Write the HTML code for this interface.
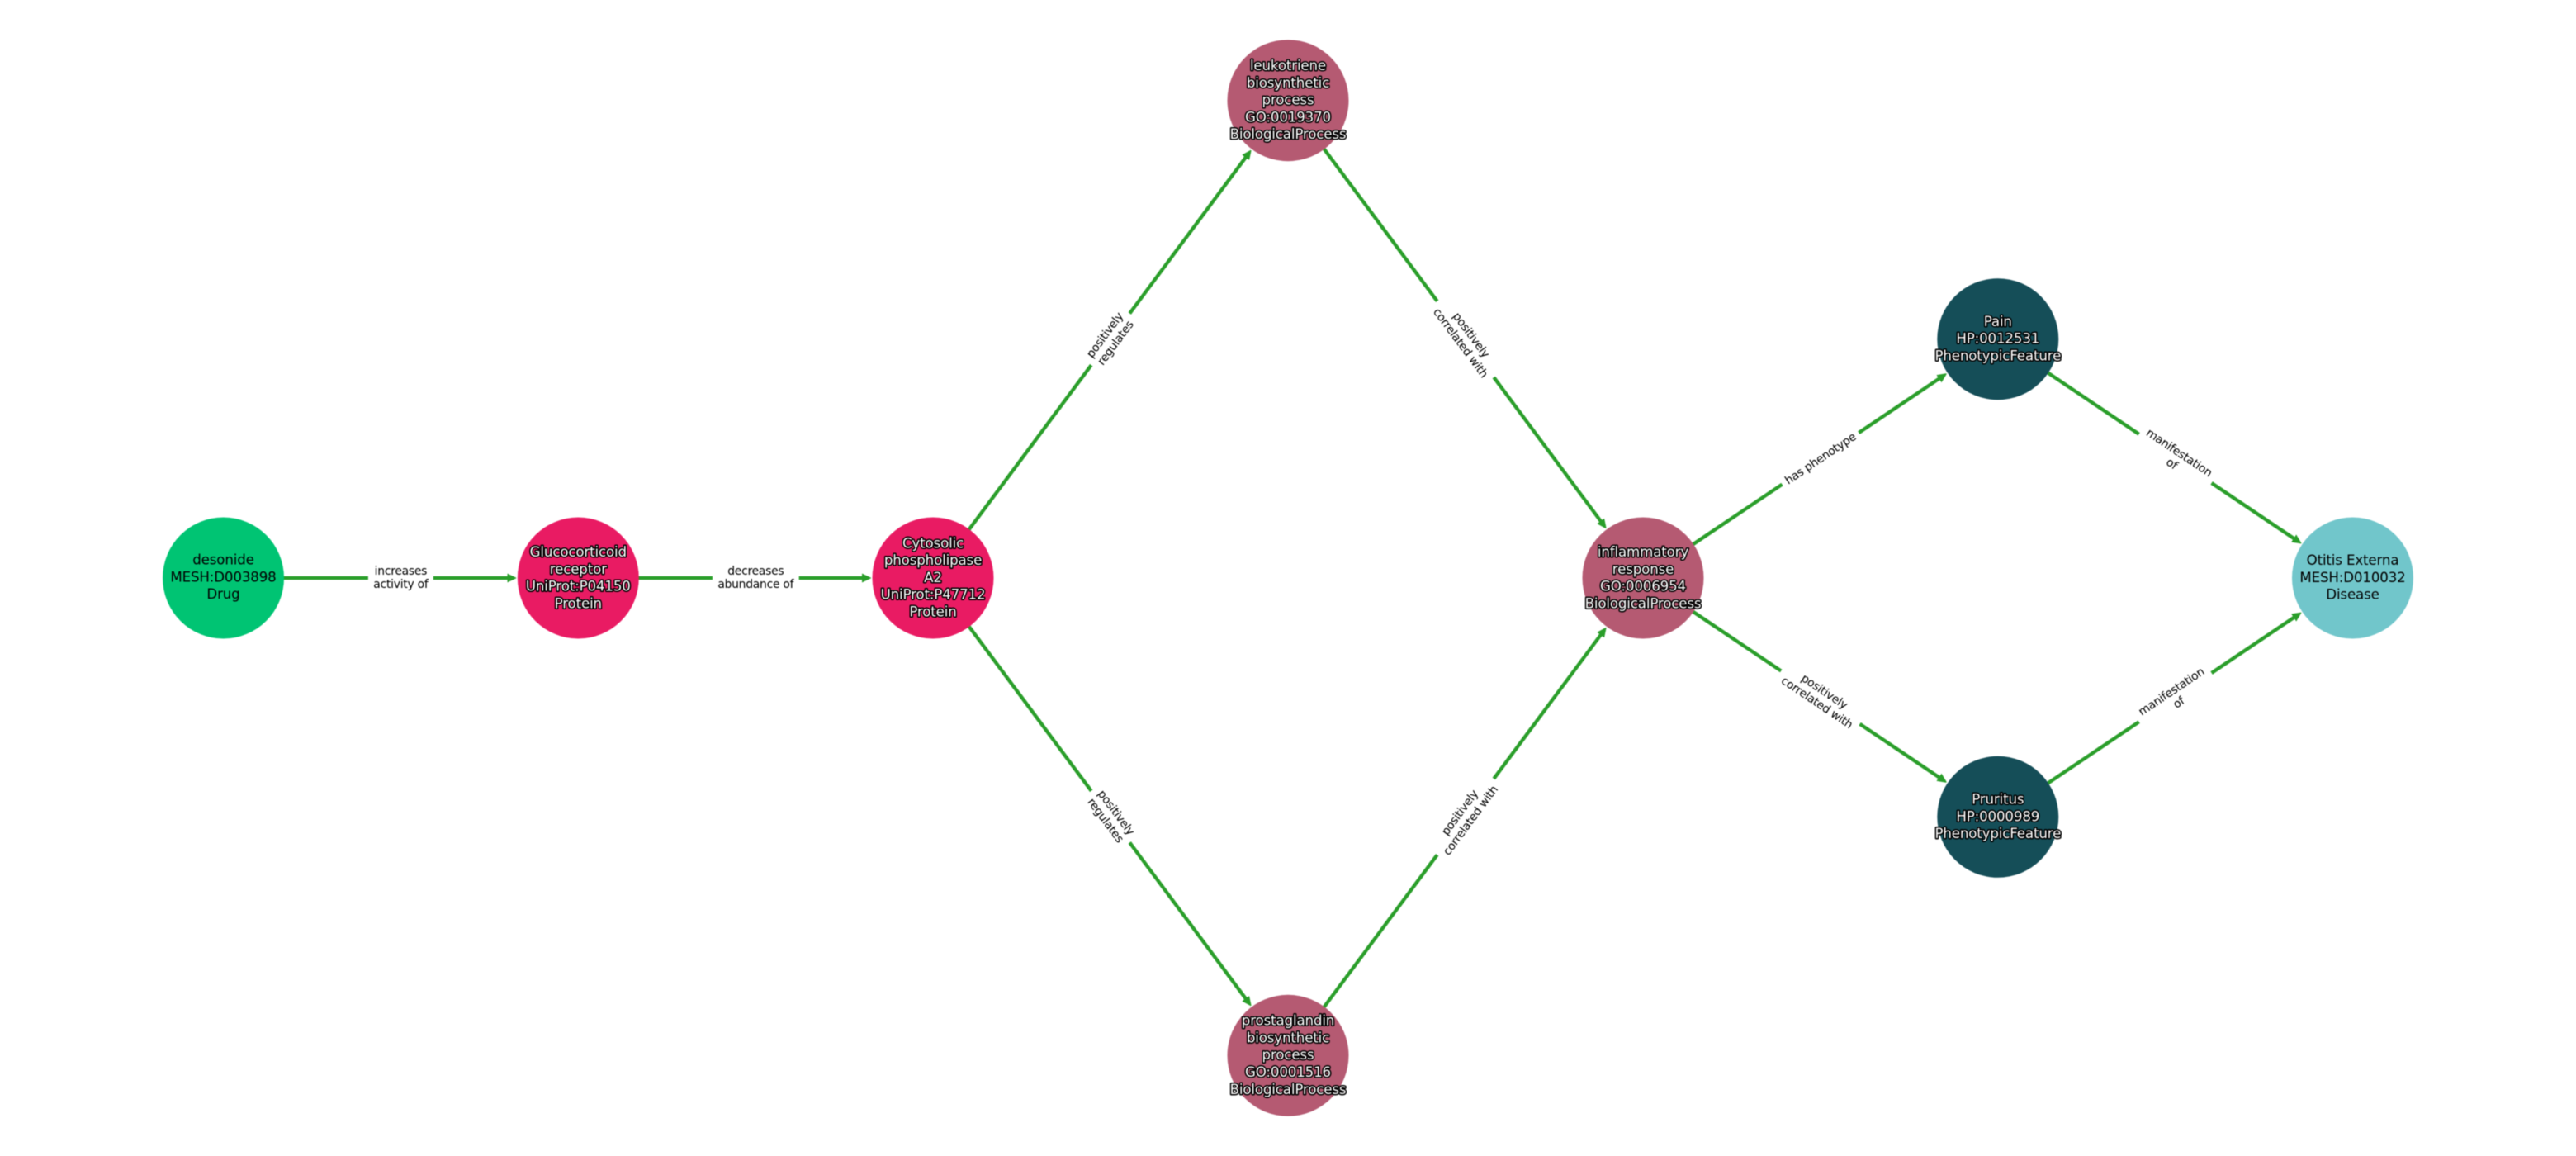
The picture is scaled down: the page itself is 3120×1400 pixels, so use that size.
<!DOCTYPE html>
<html><head><meta charset="utf-8"><style>
html,body{margin:0;padding:0;background:#fff;width:3120px;height:1400px;overflow:hidden}
svg{display:block;filter:blur(0.4px)}
text{font-family:"DejaVu Sans","Liberation Sans",sans-serif;text-anchor:middle}
.e{stroke:#2a9e2a;stroke-width:4.3;fill:none;marker-end:url(#a)}
.n text{font-size:16.67px;letter-spacing:-0.15px}
.w text{fill:#fff;stroke:#000;stroke-width:3px;paint-order:stroke;stroke-linejoin:round}
.l text{font-size:13.89px;letter-spacing:-0.25px;fill:#000}
.l rect{fill:#fff}
</style></head><body>
<svg width="3120" height="1400" viewBox="0 0 3120 1400" xmlns="http://www.w3.org/2000/svg">
<defs><marker id="a" markerUnits="userSpaceOnUse" markerWidth="16" markerHeight="16" viewBox="0 -8 16 16" refX="5" refY="0" orient="auto"><path d="M0-4.8L10.4 0 0 4.8z" fill="#2a9e2a" stroke="#2a9e2a" stroke-width="1.2" stroke-linejoin="round"/></marker></defs>
<path class="e" d="M270.5 700L619.3 700"/>
<path class="e" d="M700.3 700L1049 700"/>
<path class="e" d="M1130 700L1511.67 186.7"/>
<path class="e" d="M1130 700L1511.67 1213.3"/>
<path class="e" d="M1560 121.7L1941.67 635"/>
<path class="e" d="M1560 1278.3L1941.67 765"/>
<path class="e" d="M1990 700L2352.6 455.9"/>
<path class="e" d="M1990 700L2352.6 944.1"/>
<path class="e" d="M2419.8 410.7L2782.3 654.8"/>
<path class="e" d="M2419.8 989.3L2782.3 745.2"/>

<g class="l">
<g transform="translate(485.4 700)"><rect x="-39.5" y="-19" width="79" height="38"/><text y="-4">increases</text><text y="12">activity of</text></g>
<g transform="translate(915.3 700)"><rect x="-52.4" y="-19" width="104.8" height="38"/><text y="-4">decreases</text><text y="12">abundance of</text></g>
<g transform="translate(1345 410.85) rotate(-53.4)"><rect x="-39" y="-19" width="78" height="38"/><text y="-4">positively</text><text y="12">regulates</text></g>
<g transform="translate(1345 989.15) rotate(53.4)"><rect x="-39" y="-19" width="78" height="38"/><text y="-4">positively</text><text y="12">regulates</text></g>
<g transform="translate(1775 410.85) rotate(53.4)"><rect x="-57.5" y="-19" width="115" height="38"/><text y="-4">positively</text><text y="12">correlated with</text></g>
<g transform="translate(1775 989.15) rotate(-53.4)"><rect x="-57.5" y="-19" width="115" height="38"/><text y="-4">positively</text><text y="12">correlated with</text></g>
<g transform="translate(2204.9 555.35) rotate(-33.9)"><rect x="-56" y="-11" width="112" height="22"/><text y="4.5">has phenotype</text></g>
<g transform="translate(2204.9 844.65) rotate(33.9)"><rect x="-57.5" y="-19" width="115" height="38"/><text y="-4">positively</text><text y="12">correlated with</text></g>
<g transform="translate(2634.65 555.35) rotate(33.9)"><rect x="-53" y="-19" width="106" height="38"/><text y="-4">manifestation</text><text y="12">of</text></g>
<g transform="translate(2634.65 844.65) rotate(-33.9)"><rect x="-53" y="-19" width="106" height="38"/><text y="-4">manifestation</text><text y="12">of</text></g>
</g>

<g class="n">
<g transform="translate(270.5 700)"><circle r="73.5" fill="#00c473"/><text y="-16.7">desonide</text><text y="4.3">MESH:D003898</text><text y="25">Drug</text></g>
<g class="w" transform="translate(700.3 700)"><circle r="73.5" fill="#e91b63"/><text y="-26">Glucocorticoid</text><text y="-5.2">receptor</text><text y="15.6">UniProt:P04150</text><text y="36.4">Protein</text></g>
<g class="w" transform="translate(1130 700)"><circle r="73.5" fill="#e91b63"/><text y="-36.7">Cytosolic</text><text y="-15.9">phospholipase</text><text y="4.9">A2</text><text y="25.7">UniProt:P47712</text><text y="46.5">Protein</text></g>
<g class="w" transform="translate(1560 121.7)"><circle r="73.5" fill="#b55a72"/><text y="-36.7">leukotriene</text><text y="-15.9">biosynthetic</text><text y="4.9">process</text><text y="25.7">GO:0019370</text><text y="46.5">BiologicalProcess</text></g>
<g class="w" transform="translate(1560 1278.3)"><circle r="73.5" fill="#b55a72"/><text y="-36.7">prostaglandin</text><text y="-15.9">biosynthetic</text><text y="4.9">process</text><text y="25.7">GO:0001516</text><text y="46.5">BiologicalProcess</text></g>
<g class="w" transform="translate(1990 700)"><circle r="73.5" fill="#b55a72"/><text y="-26">inflammatory</text><text y="-5.2">response</text><text y="15.6">GO:0006954</text><text y="36.4">BiologicalProcess</text></g>
<g class="w" transform="translate(2419.8 410.7)"><circle r="73.5" fill="#154e58"/><text y="-15.7">Pain</text><text y="5">HP:0012531</text><text y="25.7">PhenotypicFeature</text></g>
<g class="w" transform="translate(2419.8 989.3)"><circle r="73.5" fill="#154e58"/><text y="-15.7">Pruritus</text><text y="5">HP:0000989</text><text y="25.7">PhenotypicFeature</text></g>
<g transform="translate(2849.5 700)"><circle r="73.5" fill="#71c6cb"/><text y="-16">Otitis Externa</text><text y="5">MESH:D010032</text><text y="25.7">Disease</text></g>
</g>
</svg>
</body></html>
